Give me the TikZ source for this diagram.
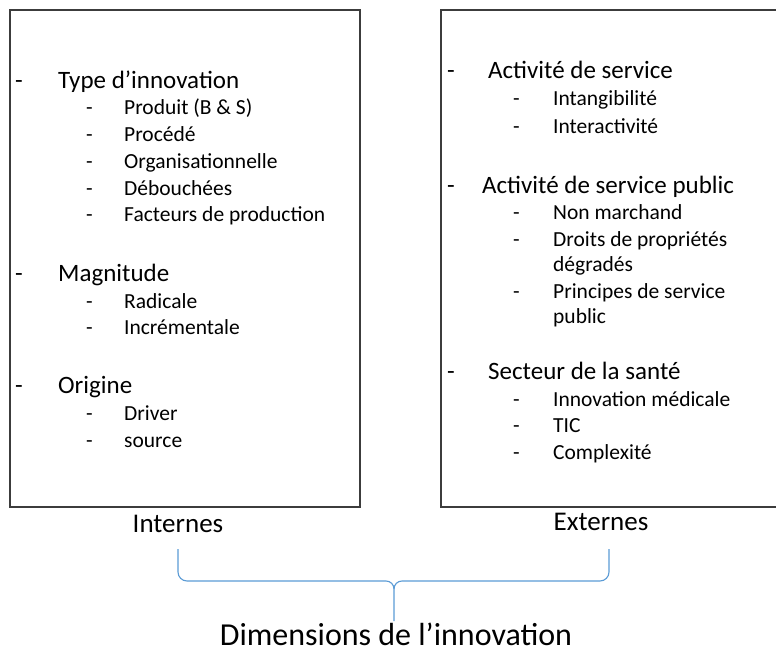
\documentclass[tikz,border=0pt]{standalone}
\usepackage{fontspec}
\usepackage{xcolor}
\setmainfont{Carlito}
\usetikzlibrary{calc,positioning}
\definecolor{bracecol}{RGB}{91,155,213}
\definecolor{boxline}{RGB}{60,60,60}
\newcommand{\dashitem}[2]{\makebox[#1][l]{-}#2}

\begin{document}
\begin{tikzpicture}[x=1pt, y=-1pt,
    headtxt/.style={anchor=base west, inner sep=0pt, font=\fontsize{25}{30}\selectfont},
    subtxt/.style={anchor=base west, inner sep=0pt, font=\fontsize{21.5}{26}\selectfont},
    captxt/.style={anchor=base, inner sep=0pt, font=\fontsize{27}{32}\selectfont}]
  \useasboundingbox (0,0) rectangle (776,650);

  % Two boxes
  \draw[boxline, line width=1.1pt] (10,10) rectangle (360,507);
  \draw[boxline, line width=1.1pt] (441,10) rectangle (800,507);

  % Internal dimensions
  \node[headtxt] (type) at (15,89) {\dashitem{43pt}{Type d’innovation}};
  \node[subtxt] (prod) at (86,115) {\dashitem{38pt}{Produit (B \& S)}};
  \node[subtxt] (proc) at (86,142) {\dashitem{38pt}{Procédé}};
  \node[subtxt] (orga) at (86,168) {\dashitem{38pt}{Organisationnelle}};
  \node[subtxt] (debo) at (86,195) {\dashitem{38pt}{Débouchées}};
  \node[subtxt] (fact) at (86,221) {\dashitem{38pt}{Facteurs de production}};
  \node[headtxt] (magn) at (15,281) {\dashitem{43pt}{Magnitude}};
  \node[subtxt] (radi) at (86,308) {\dashitem{38pt}{Radicale}};
  \node[subtxt] (incr) at (86,334) {\dashitem{38pt}{Incrémentale}};
  \node[headtxt] (orig) at (15,393) {\dashitem{43pt}{Origine}};
  \node[subtxt] (driv) at (86,420) {\dashitem{38pt}{Driver}};
  \node[subtxt] (sour) at (86,447) {\dashitem{38pt}{source}};

  % External dimensions
  \node[headtxt] (serv) at (447,79) {\dashitem{41pt}{Activité de service}};
  \node[subtxt] (inta) at (513,106) {\dashitem{40pt}{Intangibilité}};
  \node[subtxt] (inte) at (513,134) {\dashitem{40pt}{Interactivité}};
  \node[headtxt] (publ) at (447,193) {\dashitem{35pt}{Activité de service public}};
  \node[subtxt] (nonm) at (513,219) {\dashitem{40pt}{Non marchand}};
  \node[subtxt] (droi) at (513,246) {\dashitem{40pt}{Droits de propriétés}};
  \node[subtxt] (degr) at (553,271) {dégradés};
  \node[subtxt] (prin) at (513,298) {\dashitem{40pt}{Principes de service}};
  \node[subtxt] (pubc) at (553,323) {public};
  \node[headtxt] (sant) at (447,379) {\dashitem{41pt}{Secteur de la santé}};
  \node[subtxt] (medi) at (513,406) {\dashitem{40pt}{Innovation médicale}};
  \node[subtxt] (tic) at (513,432) {\dashitem{40pt}{TIC}};
  \node[subtxt] (comp) at (513,459) {\dashitem{40pt}{Complexité}};

  % Captions
  \node[captxt] (intern) at (178,532) {Internes};
  \node[captxt] (extern) at (601,530) {Externes};
  \node[anchor=base, inner sep=0pt, font=\fontsize{32}{38}\selectfont] (dimens) at (396,645) {Dimensions de l’innovation};

  % Brace
  \coordinate (bl) at (178,549);
  \coordinate (br) at (609,549);
  \coordinate (bm) at (394,581);
  \coordinate (tip) at (394,621);
  \draw[bracecol, line width=1.1pt] (bl) -- (178,572) to[out=-90,in=180] (187,581) -- ($(bm)+(-8,0)$)
    to[out=0,in=90] ($(bm)+(0,8)$) -- (tip);
  \draw[bracecol, line width=1.1pt] (br) -- (609,572) to[out=-90,in=0] (600,581) -- ($(bm)+(8,0)$)
    to[out=180,in=90] ($(bm)+(0,8)$);
\end{tikzpicture}
\end{document}
